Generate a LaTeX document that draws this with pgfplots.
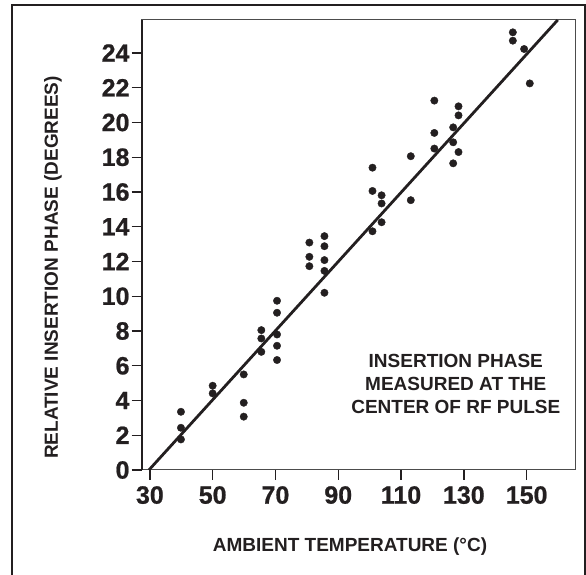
\documentclass[border=0pt]{standalone}
\usepackage{pgfplots}
\pgfplotsset{compat=1.18}
\usepackage{fontspec}
\setmainfont{Liberation Sans}
\newfontfamily\tickfont{Liberation Sans Bold}[FakeBold=0.8]

\definecolor{ink}{HTML}{231F20}

\begin{document}
\begin{tikzpicture}[x=1pt,y=1pt]
\useasboundingbox (0,0) rectangle (586,575);
% outer frame (bottom edge falls outside the picture)
\draw[line width=2.2pt, ink] (12.3,-5) -- (12.3,569.6) -- (584.8,569.6) -- (584.8,-5);

\begin{axis}[
    at={(141.7pt,105pt)}, anchor=south west,
    scale only axis, width=433.3pt, height=450pt,
    xmin=27.4, xmax=165.4,
    ymin=0, ymax=25.9,
    xtick={30,50,...,150},
    ytick={0,2,...,24},
    tick pos=left,
    tick align=outside,
    major tick length=10pt,
    tick style={line width=1.4pt, ink},
    axis line style={line width=1pt, black!70},
    /pgf/number format/assume math mode=true,
    ticklabel style={font=\fontsize{25}{25}\selectfont\tickfont, text=ink},
    yticklabel style={inner sep=2pt},
    xticklabel style={inner sep=2pt, yshift=-4pt},
    clip=false,
]
% left axis line is heavier in the original
\draw[line width=2pt, ink] (rel axis cs:0,0) -- (rel axis cs:0,1);

% measured points
\addplot[only marks, mark=*, mark size=3.7pt, color=ink] coordinates {
    (39.9,3.35) (39.9,2.43) (39.9,1.76)
    (50.0,4.85) (50.0,4.41)
    (59.9,5.50) (59.9,3.87) (59.9,3.07)
    (65.5,8.05) (65.5,7.57) (65.5,6.80)
    (70.5,9.74) (70.5,9.05) (70.5,7.80) (70.5,7.15) (70.5,6.33)
    (80.8,13.09) (80.8,12.27) (80.8,11.73)
    (85.6,13.46) (85.6,12.88) (85.6,12.08) (85.6,11.46) (85.6,10.20)
    (100.9,17.40) (100.9,16.06) (100.9,13.74)
    (103.8,15.81) (103.8,15.34) (103.8,14.26)
    (113.1,18.06) (113.1,15.53)
    (120.6,21.26) (120.6,19.40) (120.6,18.50)
    (126.6,19.72) (126.6,18.86) (126.6,17.65)
    (128.3,20.93) (128.3,20.41) (128.3,18.30)
    (145.6,25.19) (145.6,24.71)
    (149.2,24.23)
    (151.0,22.25)
};

% fitted line
\addplot[ink, line width=2.8pt] coordinates {(29.7,0) (159.9,25.9)};

\end{axis}

\node[font=\fontsize{19}{23}\selectfont\bfseries, text=ink, align=center]
    at (455.8,191.3) {INSERTION PHASE\\MEASURED AT THE\\CENTER OF RF PULSE};
\node[font=\fontsize{19}{19}\selectfont\bfseries, text=ink]
    at (350,28) {AMBIENT TEMPERATURE (\textdegree C)};
\node[font=\fontsize{19}{19}\selectfont\bfseries, text=ink, rotate=90]
    at (53,307.5) {RELATIVE INSERTION PHASE (DEGREES)};
\end{tikzpicture}
\end{document}
